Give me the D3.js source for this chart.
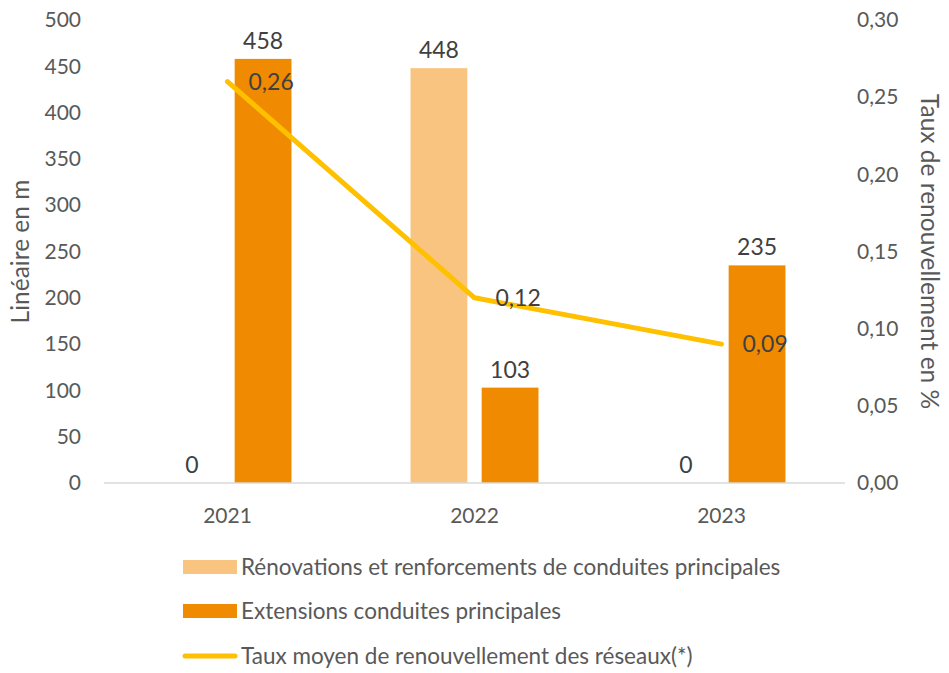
<!DOCTYPE html>
<html>
<head>
    <meta http-equiv="Content-Type" content="text/html;charset=utf-8">
    <title>Linéaire et taux de renouvellement</title>
    <script type="text/javascript" src="https://d3js.org/d3.v7.min.js"></script>
    <style>
        html, body {
            margin: 0;
            padding: 0;
            background: #fff;
        }
        text {
            font-family: Lato, "Open Sans", sans-serif;
            font-size: 21px;
            fill: #595959;
        }
        text.valueText {
            fill: #404040;
            font-size: 23px;
        }
        text.legendText {
            font-size: 22.5px;
        }
        text.axisTitle {
            font-size: 24.5px;
        }
        .axis path, .axis line {
            fill: none;
            stroke: none;
        }
    </style>
</head>
<body>
<script type="text/javascript">

    // data
    var years = ["2021", "2022", "2023"];
    var renovations = [0, 448, 0];
    var extensions = [458, 103, 235];
    var taux = [0.26, 0.12, 0.09];
    var tauxLabels = ["0,26", "0,12", "0,09"];
    var leftTicks = [0, 50, 100, 150, 200, 250, 300, 350, 400, 450, 500];
    var rightTicks = [0, 0.05, 0.10, 0.15, 0.20, 0.25, 0.30];
    var seriesNames = [
        "Rénovations et renforcements de conduites principales",
        "Extensions conduites principales",
        "Taux moyen de renouvellement des réseaux(*)"
    ];

    var colorLight = "#F8C47F",
        colorOrange = "#F08A00",
        colorLine = "#FFC000";

    var width = 949, height = 673;
    var plot = {left: 104, right: 845, top: 20, bottom: 483};

    var svg = d3.select("body").append("svg")
        .attr("width", width).attr("height", height);

    var x = d3.scaleBand().domain(years).range([plot.left, plot.right]);
    var y = d3.scaleLinear().domain([0, 500]).range([plot.bottom, plot.top]);
    var y2 = d3.scaleLinear().domain([0, 0.30]).range([plot.bottom, plot.top]);

    var barW = x.step() * 0.23;
    var offset = x.step() * 0.144;

    // axes (labels only)
    var yAxis = d3.axisLeft(y).tickValues(leftTicks).tickSize(0).tickPadding(0);
    svg.append("g").attr("class", "axis y")
        .attr("transform", "translate(81,0)")
        .call(yAxis);

    var y2Axis = d3.axisRight(y2).tickValues(rightTicks).tickSize(0).tickPadding(0)
        .tickFormat(function (d) { return d3.format(".2f")(d).replace(".", ","); });
    svg.append("g").attr("class", "axis y2")
        .attr("transform", "translate(857,0)")
        .call(y2Axis);

    var xAxis = d3.axisBottom(x).tickSize(0).tickPadding(25);
    svg.append("g").attr("class", "axis x")
        .attr("transform", "translate(0," + plot.bottom + ")")
        .call(xAxis);

    svg.selectAll(".axis text").attr("font-size", null).attr("font-family", null)
        .style("font-size", "21px").style("fill", "#595959")
        .style("font-family", "Lato, 'Open Sans', sans-serif");

    // bars
    svg.selectAll(".barRen")
        .data(renovations).enter()
        .append("rect")
        .attr("class", "barRen")
        .attr("x", function (d, i) { return x(years[i]) + x.bandwidth() / 2 - offset - barW / 2; })
        .attr("y", function (d) { return y(d); })
        .attr("width", barW)
        .attr("height", function (d) { return y(0) - y(d); })
        .style("fill", colorLight);

    svg.selectAll(".barExt")
        .data(extensions).enter()
        .append("rect")
        .attr("class", "barExt")
        .attr("x", function (d, i) { return x(years[i]) + x.bandwidth() / 2 + offset - barW / 2; })
        .attr("y", function (d) { return y(d); })
        .attr("width", barW)
        .attr("height", function (d) { return y(0) - y(d); })
        .style("fill", colorOrange);

    // baseline
    svg.append("line")
        .attr("x1", plot.left).attr("x2", plot.right)
        .attr("y1", y(0)).attr("y2", y(0))
        .style("stroke", "#d9d9d9").style("stroke-width", 1.5);

    // bar value labels
    svg.selectAll(".lblRen")
        .data(renovations).enter()
        .append("text")
        .attr("class", "valueText")
        .attr("text-anchor", "middle")
        .attr("x", function (d, i) { return x(years[i]) + x.bandwidth() / 2 - offset; })
        .attr("y", function (d) { return y(d) - 10; })
        .text(function (d) { return d; });

    svg.selectAll(".lblExt")
        .data(extensions).enter()
        .append("text")
        .attr("class", "valueText")
        .attr("text-anchor", "middle")
        .attr("x", function (d, i) { return x(years[i]) + x.bandwidth() / 2 + offset; })
        .attr("y", function (d) { return y(d) - 10; })
        .text(function (d) { return d; });

    // line
    var line = d3.line()
        .x(function (d, i) { return x(years[i]) + x.bandwidth() / 2; })
        .y(function (d) { return y2(d); });

    svg.append("path")
        .datum(taux)
        .attr("d", line)
        .style("fill", "none")
        .style("stroke", colorLine)
        .style("stroke-width", 5)
        .style("stroke-linecap", "round")
        .style("stroke-linejoin", "round");

    svg.selectAll(".lblTaux")
        .data(taux).enter()
        .append("text")
        .attr("class", "valueText")
        .attr("x", function (d, i) { return x(years[i]) + x.bandwidth() / 2 + 21; })
        .attr("y", function (d) { return y2(d); })
        .attr("dy", "0.35em")
        .text(function (d, i) { return tauxLabels[i]; });

    // axis titles
    svg.append("text")
        .attr("class", "axisTitle")
        .attr("transform", "translate(29," + ((plot.top + plot.bottom) / 2) + ") rotate(-90)")
        .attr("text-anchor", "middle")
        .text("Linéaire en m");

    svg.append("text")
        .attr("class", "axisTitle")
        .attr("transform", "translate(921," + ((plot.top + plot.bottom) / 2) + ") rotate(90)")
        .attr("text-anchor", "middle")
        .text("Taux de renouvellement en %");

    // legend
    var legendRows = [567, 611, 656];
    var legend = svg.append("g").attr("class", "legendWrap");
    legend.append("rect")
        .attr("x", 183).attr("y", legendRows[0] - 7).attr("width", 54).attr("height", 14)
        .style("fill", colorLight);
    legend.append("rect")
        .attr("x", 183).attr("y", legendRows[1] - 7).attr("width", 54).attr("height", 14)
        .style("fill", colorOrange);
    legend.append("line")
        .attr("x1", 185).attr("x2", 235).attr("y1", legendRows[2]).attr("y2", legendRows[2])
        .style("stroke", colorLine).style("stroke-width", 5).style("stroke-linecap", "round");
    legend.selectAll(".legendText")
        .data(seriesNames).enter()
        .append("text")
        .attr("class", "legendText")
        .attr("x", 241)
        .attr("y", function (d, i) { return legendRows[i]; })
        .attr("dy", "0.35em")
        .text(function (d) { return d; });

</script>
</body>
</html>
